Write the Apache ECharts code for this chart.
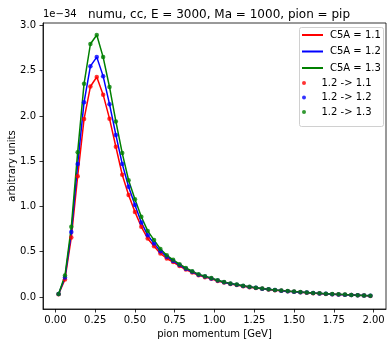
<!DOCTYPE html>
<html>
<head>
<meta charset="utf-8">
<script src="https://cdn.jsdelivr.net/npm/echarts@6/dist/echarts.min.js"></script>
<style>
  html, body { margin: 0; padding: 0; background: #fff; }
  #chart { width: 387px; height: 341px; }
</style>
</head>
<body>
<div id="chart"></div>
<script>
// pion momentum bins [GeV]
const momentum = [0.02, 0.06, 0.10, 0.14, 0.18, 0.22, 0.26, 0.30, 0.34, 0.38,
  0.42, 0.46, 0.50, 0.54, 0.58, 0.62, 0.66, 0.70, 0.74, 0.78,
  0.82, 0.86, 0.90, 0.94, 0.98, 1.02, 1.06, 1.10, 1.14, 1.18,
  1.22, 1.26, 1.30, 1.34, 1.38, 1.42, 1.46, 1.50, 1.54, 1.58,
  1.62, 1.66, 1.70, 1.74, 1.78, 1.82, 1.86, 1.90, 1.94, 1.98];

// values in units of 1e-34
const c5a11 = [0.030, 0.193, 0.657, 1.335, 1.965, 2.325, 2.430, 2.235, 1.970, 1.660,
  1.350, 1.126, 0.940, 0.775, 0.647, 0.560, 0.480, 0.425, 0.385, 0.342,
  0.303, 0.270, 0.239, 0.219, 0.200, 0.177, 0.159, 0.144, 0.131, 0.119,
  0.108, 0.099, 0.090, 0.082, 0.074, 0.068, 0.062, 0.057, 0.052, 0.047,
  0.042, 0.038, 0.034, 0.031, 0.027, 0.024, 0.021, 0.018, 0.015, 0.012];
const c5a12 = [0.032, 0.215, 0.717, 1.470, 2.150, 2.550, 2.650, 2.440, 2.130, 1.790,
  1.470, 1.218, 1.015, 0.824, 0.683, 0.590, 0.505, 0.445, 0.398, 0.352,
  0.312, 0.278, 0.245, 0.225, 0.205, 0.181, 0.163, 0.147, 0.134, 0.122,
  0.111, 0.101, 0.092, 0.084, 0.076, 0.069, 0.063, 0.058, 0.053, 0.048,
  0.043, 0.039, 0.035, 0.031, 0.028, 0.025, 0.022, 0.019, 0.016, 0.013];
const c5a13 = [0.033, 0.237, 0.775, 1.600, 2.355, 2.795, 2.895, 2.650, 2.320, 1.940,
  1.590, 1.290, 1.080, 0.886, 0.730, 0.628, 0.530, 0.460, 0.410, 0.362,
  0.320, 0.285, 0.250, 0.230, 0.210, 0.185, 0.166, 0.150, 0.137, 0.125,
  0.113, 0.103, 0.094, 0.086, 0.078, 0.071, 0.065, 0.059, 0.054, 0.049,
  0.044, 0.040, 0.036, 0.032, 0.029, 0.026, 0.023, 0.020, 0.017, 0.014];
// reweighted 1.2 -> x (dots), read as sitting on the lines
const rw11 = c5a11.slice();
const rw12 = c5a12.slice();
const rw13 = c5a13.slice();

const xTicks = [0, 0.25, 0.5, 0.75, 1.0, 1.25, 1.5, 1.75, 2.0];
const yTicks = [0, 0.5, 1.0, 1.5, 2.0, 2.5, 3.0];

const font = 'DejaVu Sans';
const pairs = arr => momentum.map((x, i) => [x, arr[i]]);

function lineSeries(name, data, color) {
  return {
    name: name, type: 'line', data: pairs(data), showSymbol: false,
    lineStyle: { color: color, width: 1.5 }, itemStyle: { color: color },
    animation: false, z: 2
  };
}
function dotSeries(name, data, color) {
  return {
    name: name, type: 'scatter', data: pairs(data), symbolSize: 4.5,
    itemStyle: { color: color }, animation: false, z: 3
  };
}

const chart = echarts.init(document.getElementById('chart'), null, { renderer: 'canvas' });
chart.setOption({
  backgroundColor: '#fff',
  textStyle: { fontFamily: font },
  title: {
    text: 'numu, cc, E = 3000, Ma = 1000, pion = pip',
    left: 214, top: 4, textAlign: 'center',
    textStyle: { fontFamily: font, fontSize: 12, fontWeight: 'normal', color: '#000' }
  },
  grid: { left: 43, right: 1, top: 23, bottom: 32, outerBoundsMode: 'none', containLabel: false,
    show: true, borderColor: '#000', borderWidth: 0.8 },
  xAxis: {
    type: 'value', min: -0.078, max: 2.078,
    name: 'pion momentum [GeV]', nameLocation: 'middle', nameGap: 19,
    nameTextStyle: { fontFamily: font, fontSize: 10, color: '#000' },
    axisLine: { show: true, onZero: false, lineStyle: { color: '#000', width: 0.8 } },
    axisTick: { show: true, length: 3.5, customValues: xTicks, lineStyle: { color: '#000', width: 0.8 } },
    axisLabel: { customValues: xTicks, margin: 6, fontSize: 10, color: '#000',
      formatter: v => v.toFixed(2) },
    splitLine: { show: false }
  },
  yAxis: {
    type: 'value', min: -0.133, max: 3.027,
    name: 'arbitrary units', nameLocation: 'middle', nameGap: 26, nameRotate: 90,
    nameMoveOverlap: false,
    nameTextStyle: { fontFamily: font, fontSize: 10, color: '#000' },
    axisLine: { show: true, onZero: false, lineStyle: { color: '#000', width: 0.8 } },
    axisTick: { show: true, length: 3.5, customValues: yTicks, lineStyle: { color: '#000', width: 0.8 } },
    axisLabel: { customValues: yTicks, margin: 7, fontSize: 10, color: '#000',
      formatter: v => v.toFixed(1) },
    splitLine: { show: false }
  },
  graphic: [
    { type: 'text', left: 43, top: 9, style: { text: '1e\u221234', fontFamily: font, fontSize: 10, fill: '#000' } },
    { type: 'rect', shape: { x: 299.5, y: 27.5, width: 84, height: 99, r: 2 }, z: 5,
      style: { fill: 'rgba(255,255,255,0.8)', stroke: '#d0d0d0', lineWidth: 1 } }
  ],
  legend: [
    {
      data: ['C5A = 1.1', 'C5A = 1.2', 'C5A = 1.3'],
      orient: 'vertical', left: 302, top: 30, itemWidth: 21, itemHeight: 2,
      itemGap: 6.5, icon: 'rect', z: 10, padding: 0,
      textStyle: { fontFamily: font, fontSize: 10, color: '#000', padding: [0, 0, 0, 2] }
    },
    {
      data: ['1.2 -> 1.1', '1.2 -> 1.2', '1.2 -> 1.3'],
      orient: 'vertical', left: 302, top: 78, itemWidth: 21, itemHeight: 4,
      itemGap: 4.5, icon: 'circle', z: 10, padding: 0,
      textStyle: { fontFamily: font, fontSize: 10, color: '#000', padding: [0, 0, 0, 2] }
    }
  ],
  series: [
    lineSeries('C5A = 1.1', c5a11, '#ff0000'),
    lineSeries('C5A = 1.2', c5a12, '#0000ff'),
    lineSeries('C5A = 1.3', c5a13, '#008000'),
    dotSeries('1.2 -> 1.1', rw11, '#ff0000'),
    dotSeries('1.2 -> 1.2', rw12, '#0000ff'),
    dotSeries('1.2 -> 1.3', rw13, '#008000')
  ]
});
</script>
</body>
</html>
